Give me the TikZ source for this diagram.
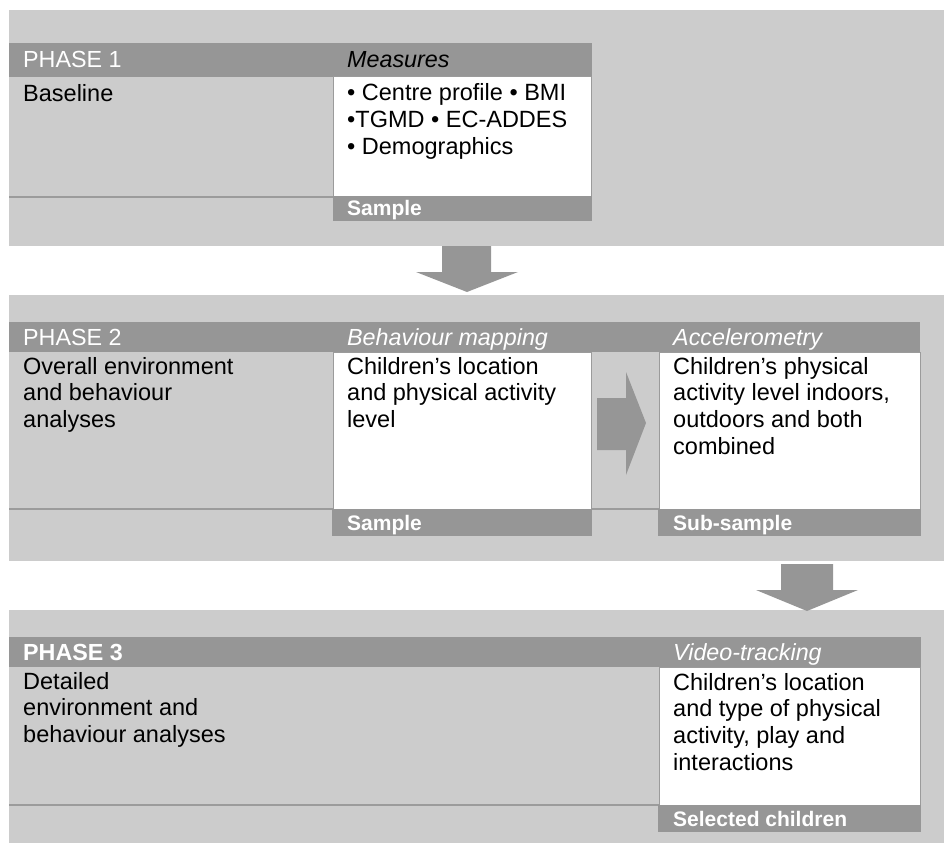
\documentclass[tikz,border=0pt]{standalone}
\usepackage{fontspec}
\setmainfont{Liberation Sans}
\definecolor{panelgray}{RGB}{204,204,204}
\definecolor{bargray}{RGB}{150,150,150}
\definecolor{linegray}{RGB}{155,155,155}
\newcommand{\lines}[1]{\parbox[t]{260pt}{#1}}
\begin{document}
\begin{tikzpicture}[x=1pt,y=-1pt,
  panel/.style={fill=panelgray},
  bar/.style={fill=bargray},
  whitebox/.style={fill=white, draw=linegray, line width=1pt},
  sepline/.style={draw=linegray, line width=2pt},
  blockarrow/.style={fill=bargray},
  hdr/.style={anchor=base west, inner sep=0pt, text=white, font=\fontsize{23.3}{27}\selectfont},
  hdrit/.style={hdr, font=\fontsize{23.3}{27}\selectfont\itshape},
  body/.style={anchor=base west, inner sep=0pt, text=black, font=\fontsize{23.5}{26.8}\selectfont},
  foot/.style={anchor=base west, inner sep=0pt, text=white, font=\fontsize{21}{24}\selectfont\bfseries}]
\useasboundingbox (0,0) rectangle (944,845);
% panels
\fill[panel] (9,10) rectangle (944,246);
\fill[panel] (9,295) rectangle (944,561);
\fill[panel] (9,610) rectangle (944,843);
% ---------- Phase 1
\fill[bar] (9,43) rectangle (592,77);
\draw[sepline] (9,197) -- (333,197);
\filldraw[whitebox] (333,77) rectangle (591,196);
\fill[bar] (333,196) rectangle (592,221);
\node[hdr] (p1) at (23,68) {PHASE 1};
\node[hdrit, text=black] (p1m) at (347,68) {Measures};
\node[body] (p1t) at (23,102) {Baseline};
\node[body] (p1mt) at (347,101) {\lines{• Centre profile • BMI\\•TGMD • EC-ADDES\\• Demographics}};
\node[foot] (p1s) at (347,215) {Sample};
% arrow 1
\fill[blockarrow] (442,246) -- (491,246) -- (491,272) -- (518,272) -- (467,292) -- (416,272) -- (442,272) -- cycle;
% ---------- Phase 2
\fill[bar] (9,322) rectangle (920,352);
\draw[sepline] (9,509) -- (920,509);
\filldraw[whitebox] (333,352) rectangle (591,509);
\filldraw[whitebox] (659,352) rectangle (920,509);
\fill[bar] (332,509) rectangle (592,536);
\fill[bar] (658,509) rectangle (921,536);
\node[hdr] (p2) at (23,345) {PHASE 2};
\node[hdrit] (p2b) at (347,345) {Behaviour mapping};
\node[hdrit] (p2a) at (673,345) {Accelerometry};
\node[body] (p2t) at (23,374) {\lines{Overall environment\\and behaviour\\analyses}};
\node[body] (p2bt) at (347,374) {\lines{Children’s location\\and physical activity\\level}};
\node[body] (p2at) at (673,374) {\lines{Children’s physical\\activity level indoors,\\outdoors and both\\combined}};
\node[foot] (p2bs) at (347,530) {Sample};
\node[foot] (p2as) at (673,530) {Sub-sample};
% arrow between columns
\fill[blockarrow] (597,398) -- (626,398) -- (626,372) -- (646,423) -- (626,475) -- (626,450) -- (597,450) -- cycle;
% arrow 3
\fill[blockarrow] (781,564) -- (833,564) -- (833,590) -- (858,590) -- (807,611) -- (756,590) -- (781,590) -- cycle;
% ---------- Phase 3
\fill[bar] (9,637) rectangle (921,667);
\draw[sepline] (9,805) -- (659,805);
\filldraw[whitebox] (659,667) rectangle (920,805);
\fill[bar] (658,805) rectangle (921,832);
\node[hdr, font=\fontsize{23.3}{27}\selectfont\bfseries] (p3) at (23,660) {PHASE 3};
\node[hdrit] (p3v) at (673,660) {Video-tracking};
\node[body] (p3t) at (23,689) {\lines{Detailed\\environment and\\behaviour analyses}};
\node[body] (p3vt) at (673,690) {\lines{Children’s location\\and type of physical\\activity, play and\\interactions}};
\node[foot] (p3s) at (673,826) {Selected children};
\end{tikzpicture}
\end{document}
